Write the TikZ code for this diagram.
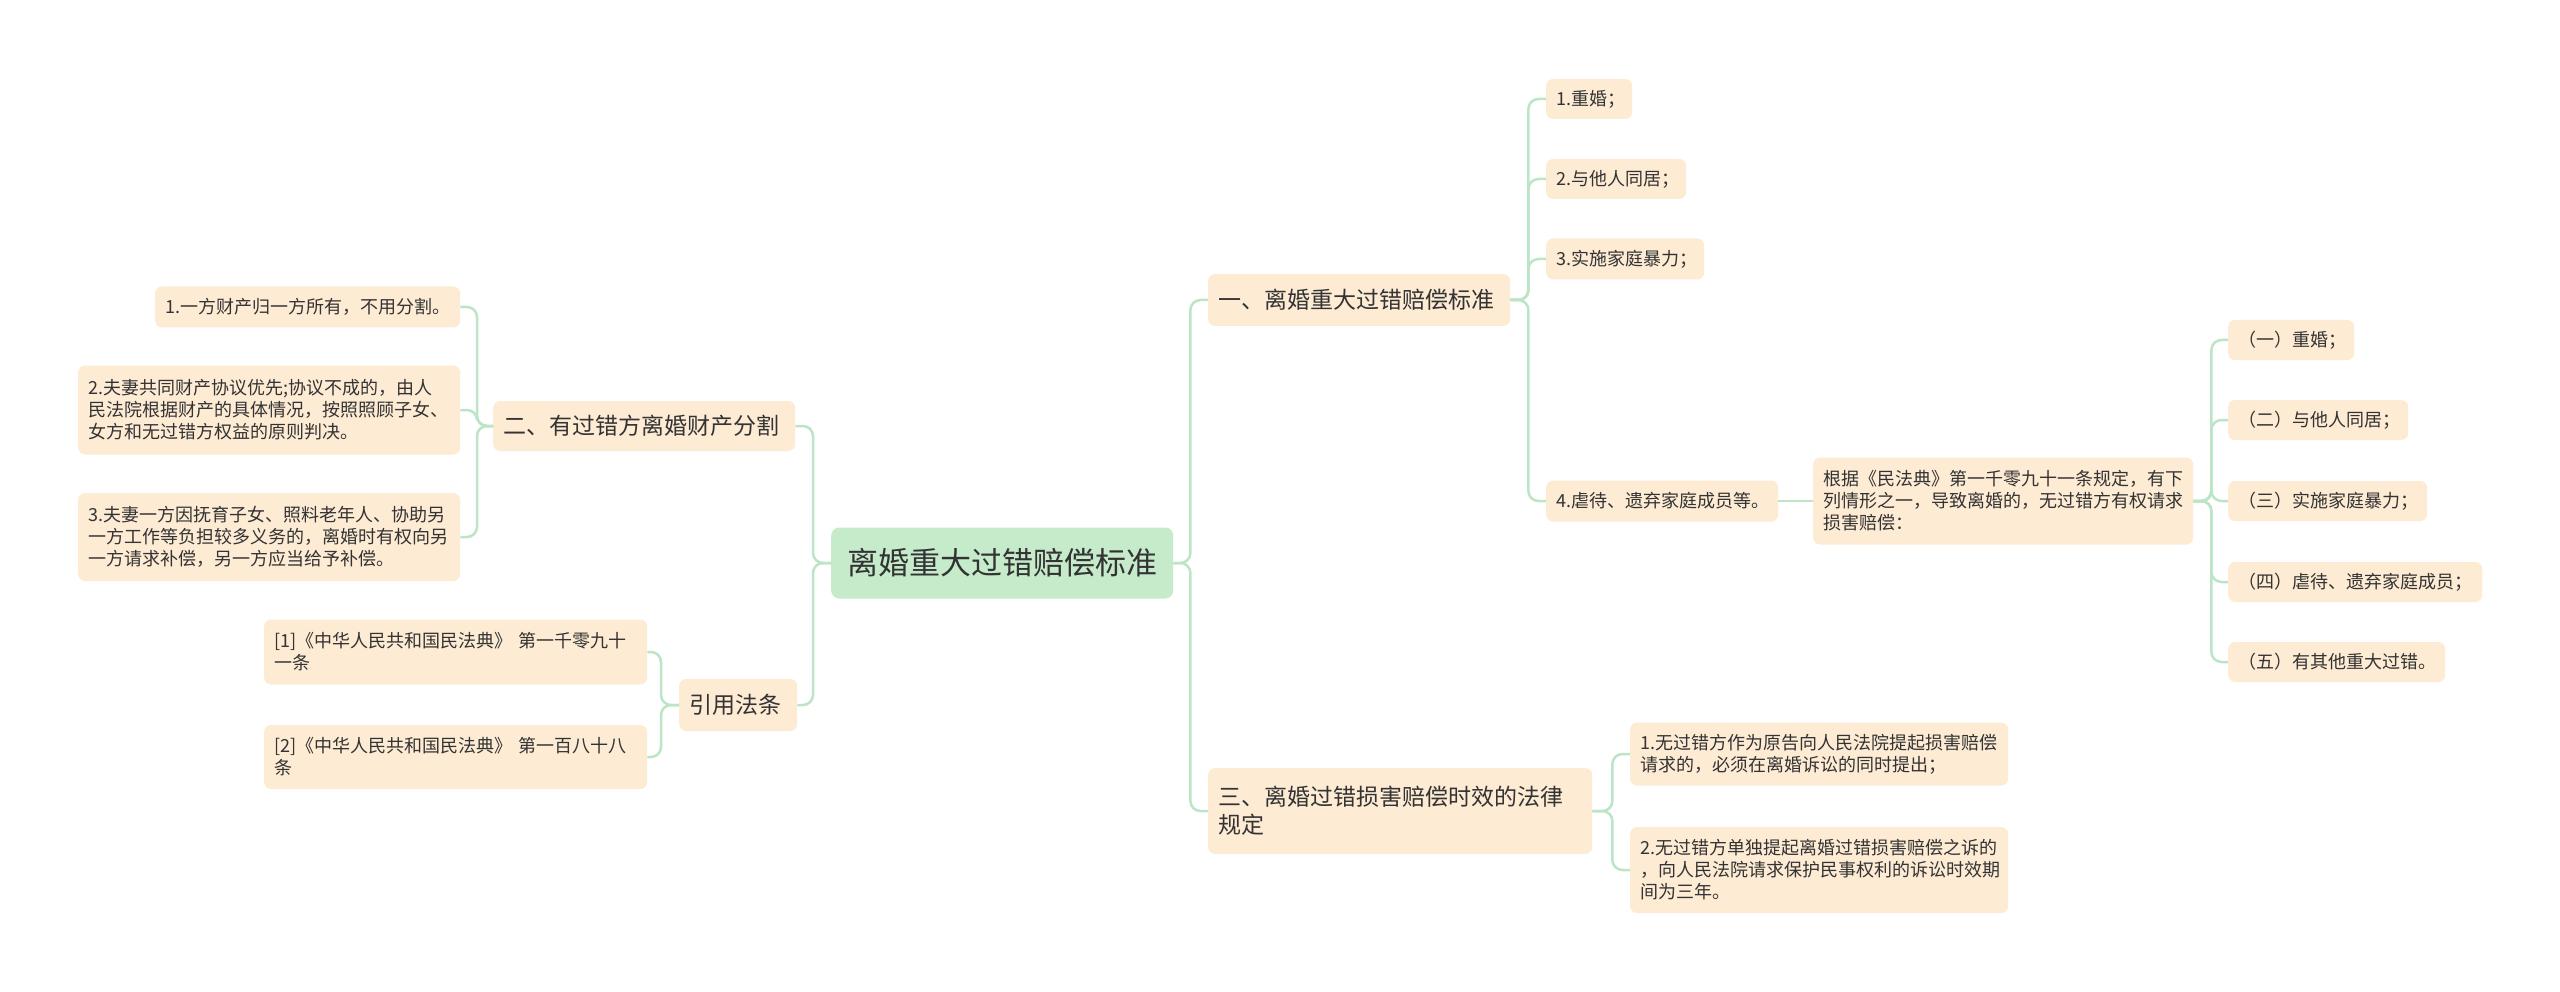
\documentclass[tikz,border=0pt]{standalone}
\usepackage{fontspec}
\setmainfont{Noto Sans CJK SC}
\definecolor{leaffill}{HTML}{FDEBD4}
\definecolor{rootfill}{HTML}{C6EBCB}
\definecolor{linecol}{HTML}{BCE5C6}
\definecolor{txt}{HTML}{333333}
\tikzset{
  box/.style={rounded corners=7pt, fill=leaffill, text=txt, inner xsep=10pt, inner ysep=0pt, align=left, anchor=west},
  leaf/.style={box, text width=#1, font=\fontsize{18}{22}\selectfont},
  branch/.style={box, text width=#1, font=\fontsize{23}{28}\selectfont},
  rootbox/.style={rounded corners=8pt, fill=rootfill, text=txt, inner sep=0pt, align=center, anchor=west, font=\fontsize{31}{36}\selectfont},
  conn/.style={draw=linecol, line width=2.5pt, rounded corners=10pt}
}
\begin{document}
\begin{tikzpicture}[x=1pt,y=-1pt]
\useasboundingbox (0,0) rectangle (2560,992);
\fill[white] (0,0) rectangle (2560,992);
% root
\node[rootbox, minimum width=342pt, minimum height=71pt] (root) at (831,563) {离婚重大过错赔偿标准};
% left branches
\node[branch=282pt, minimum height=50pt] (b2) at (493,426) {二、有过错方离婚财产分割};
\node[branch=98pt, minimum height=52pt] (b4) at (679,705) {引用法条};
% right branches
\node[branch=282pt, minimum height=52pt] (b1) at (1208,300) {一、离婚重大过错赔偿标准};
\node[branch=364pt, minimum height=86pt] (b3) at (1208,811) {三、离婚过错损害赔偿时效的法律\\规定};
% leaves of b2
\node[leaf=285pt, minimum height=41pt] (l1) at (155,307) {1.一方财产归一方所有，不用分割。};
\node[leaf=362pt, minimum height=89pt] (l2) at (78,410) {2.夫妻共同财产协议优先;协议不成的，由人\\民法院根据财产的具体情况，按照照顾子女、\\女方和无过错方权益的原则判决。};
\node[leaf=362pt, minimum height=88pt] (l3) at (78,537) {3.夫妻一方因抚育子女、照料老年人、协助另\\一方工作等负担较多义务的，离婚时有权向另\\一方请求补偿，另一方应当给予补偿。};
% leaves of b4
\node[leaf=363pt, minimum height=65pt] (c1) at (264,652) {[1]《中华人民共和国民法典》 第一千零九十\\一条};
\node[leaf=363pt, minimum height=64pt] (c2) at (264,757) {[2]《中华人民共和国民法典》 第一百八十八\\条};
% leaves of b1
\node[leaf=66pt, minimum height=40pt] (r1) at (1546,99) {1.重婚；};
\node[leaf=120pt, minimum height=40pt] (r2) at (1546,179) {2.与他人同居；};
\node[leaf=138pt, minimum height=41pt] (r3) at (1546,259) {3.实施家庭暴力；};
\node[leaf=212pt, minimum height=41pt] (r4) at (1546,501) {4.虐待、遗弃家庭成员等。};
\node[leaf=360pt, minimum height=87pt] (gj) at (1813,501) {根据《民法典》第一千零九十一条规定，有下\\列情形之一，导致离婚的，无过错方有权请求\\损害赔偿：};
% leaves of gj
\node[leaf=106pt, minimum height=40pt] (g1) at (2228,340) {（一）重婚；};
\node[leaf=160pt, minimum height=40pt] (g2) at (2228,420) {（二）与他人同居；};
\node[leaf=179pt, minimum height=40pt] (g3) at (2228,501) {（三）实施家庭暴力；};
\node[leaf=234pt, minimum height=40pt] (g4) at (2228,582) {（四）虐待、遗弃家庭成员；};
\node[leaf=197pt, minimum height=40pt] (g5) at (2228,662) {（五）有其他重大过错。};
% leaves of b3
\node[leaf=358pt, minimum height=63pt] (t1) at (1630,754) {1.无过错方作为原告向人民法院提起损害赔偿\\请求的，必须在离婚诉讼的同时提出；};
\node[leaf=358pt, minimum height=86pt] (t2) at (1630,870) {2.无过错方单独提起离婚过错损害赔偿之诉的\\，向人民法院请求保护民事权利的诉讼时效期\\间为三年。};
% connectors
\draw[conn] (root.east) -- ++(17,0) |- (b1.west);
\draw[conn] (root.east) -- ++(17,0) |- (b3.west);
\draw[conn] (root.west) -- ++(-18,0) |- (b2.east);
\draw[conn] (root.west) -- ++(-18,0) |- (b4.east);
\draw[conn] (b2.west) -- ++(-16,0) |- (l1.east);
\draw[conn] (b2.west) -- ++(-16,0) |- (l2.east);
\draw[conn] (b2.west) -- ++(-16,0) |- (l3.east);
\draw[conn] (b4.west) -- ++(-18,0) |- (c1.east);
\draw[conn] (b4.west) -- ++(-18,0) |- (c2.east);
\draw[conn] (b1.east) -- ++(18,0) |- (r1.west);
\draw[conn] (b1.east) -- ++(18,0) |- (r2.west);
\draw[conn] (b1.east) -- ++(18,0) |- (r3.west);
\draw[conn] (b1.east) -- ++(18,0) |- (r4.west);
\draw[conn] (r4.east) -- (gj.west);
\draw[conn] (gj.east) -- ++(18,0) |- (g1.west);
\draw[conn] (gj.east) -- ++(18,0) |- (g2.west);
\draw[conn] (gj.east) -- ++(18,0) |- (g3.west);
\draw[conn] (gj.east) -- ++(18,0) |- (g4.west);
\draw[conn] (gj.east) -- ++(18,0) |- (g5.west);
\draw[conn] (b3.east) -- ++(20,0) |- (t1.west);
\draw[conn] (b3.east) -- ++(20,0) |- (t2.west);
\end{tikzpicture}
\end{document}
